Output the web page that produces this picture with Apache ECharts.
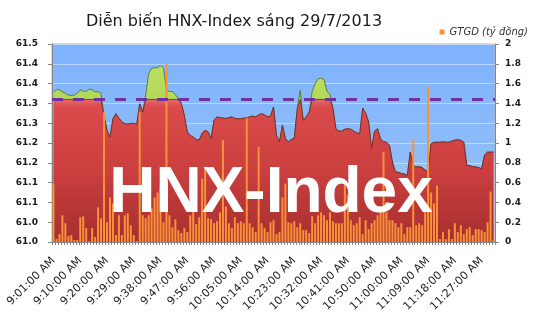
<!DOCTYPE html>
<html><head><meta charset="utf-8">
<script src="https://cdn.jsdelivr.net/npm/echarts@6/dist/echarts.min.js"></script>
<style>html,body{margin:0;padding:0;background:#fff}#c{width:535px;height:335px}</style>
</head><body><div id="c"></div>
<script>
const categories = [
'9:01:00 AM','9:02:00 AM','9:03:00 AM','9:04:00 AM','9:05:00 AM','9:06:00 AM','9:07:00 AM','9:08:00 AM','9:09:00 AM','9:10:00 AM',
'9:11:00 AM','9:12:00 AM','9:13:00 AM','9:14:00 AM','9:16:00 AM','9:17:00 AM','9:18:00 AM','9:19:00 AM','9:20:00 AM',
'9:21:00 AM','9:22:00 AM','9:23:00 AM','9:24:00 AM','9:25:00 AM','9:26:00 AM','9:27:00 AM','9:28:00 AM','9:29:00 AM','9:30:00 AM',
'9:31:00 AM','9:32:00 AM','9:33:00 AM','9:34:00 AM','9:35:00 AM','9:36:00 AM','9:37:00 AM','9:38:00 AM','9:39:00 AM','9:40:00 AM',
'9:41:00 AM','9:42:00 AM','9:43:00 AM','9:44:00 AM','9:45:00 AM','9:46:00 AM','9:47:00 AM','9:48:00 AM','9:49:00 AM','9:50:00 AM',
'9:51:00 AM','9:52:00 AM','9:53:00 AM','9:54:00 AM','9:55:00 AM','9:56:00 AM','9:57:00 AM','9:58:00 AM','9:59:00 AM',
'10:00:00 AM','10:01:00 AM','10:02:00 AM','10:03:00 AM','10:04:00 AM','10:05:00 AM','10:06:00 AM','10:07:00 AM','10:08:00 AM','10:09:00 AM',
'10:10:00 AM','10:11:00 AM','10:12:00 AM','10:13:00 AM','10:14:00 AM','10:15:00 AM','10:16:00 AM','10:17:00 AM','10:18:00 AM','10:19:00 AM',
'10:20:00 AM','10:21:00 AM','10:22:00 AM','10:23:00 AM','10:24:00 AM','10:25:00 AM','10:26:00 AM','10:27:00 AM','10:28:00 AM','10:29:00 AM',
'10:30:00 AM','10:31:00 AM','10:32:00 AM','10:33:00 AM','10:34:00 AM','10:35:00 AM','10:36:00 AM','10:37:00 AM','10:38:00 AM','10:39:00 AM',
'10:40:00 AM','10:41:00 AM','10:42:00 AM','10:43:00 AM','10:44:00 AM','10:45:00 AM','10:46:00 AM','10:47:00 AM','10:48:00 AM','10:49:00 AM',
'10:50:00 AM','10:51:00 AM','10:52:00 AM','10:53:00 AM','10:54:00 AM','10:56:00 AM','10:57:00 AM','10:58:00 AM','10:59:00 AM','11:00:00 AM',
'11:01:00 AM','11:02:00 AM','11:03:00 AM','11:04:00 AM','11:05:00 AM','11:06:00 AM','11:07:00 AM','11:08:00 AM','11:09:00 AM','11:10:00 AM',
'11:11:00 AM','11:12:00 AM','11:13:00 AM','11:14:00 AM','11:15:00 AM','11:16:00 AM','11:17:00 AM','11:18:00 AM','11:19:00 AM','11:20:00 AM',
'11:21:00 AM','11:22:00 AM','11:23:00 AM','11:24:00 AM','11:25:00 AM','11:26:00 AM','11:27:00 AM','11:28:00 AM','11:29:00 AM','11:30:00 AM',
'11:31:00 AM'
];

const indexValues = [
61.378,61.385,61.384,61.379,61.375,61.371,61.370,61.371,61.376,61.384,
61.381,61.380,61.386,61.384,61.379,61.380,61.375,61.318,61.282,61.265,
61.311,61.324,61.313,61.303,61.299,61.298,61.299,61.300,61.297,61.349,
61.328,61.370,61.425,61.438,61.440,61.440,61.446,61.438,61.383,61.380,
61.380,61.372,61.362,61.350,61.320,61.278,61.269,61.265,61.259,61.257,
61.275,61.282,61.278,61.261,61.307,61.316,61.314,61.313,61.312,61.314,
61.316,61.312,61.311,61.311,61.313,61.313,61.316,61.318,61.316,61.321,
61.324,61.321,61.316,61.318,61.341,61.269,61.253,61.295,61.262,61.253,
61.259,61.262,61.337,61.383,61.307,61.316,61.328,61.380,61.400,61.412,
61.414,61.410,61.380,61.373,61.337,61.285,61.280,61.280,61.285,61.286,
61.285,61.280,61.276,61.273,61.338,61.325,61.303,61.236,61.280,61.286,
61.260,61.253,61.252,61.244,61.202,61.177,61.176,61.173,61.172,61.168,
61.227,61.192,61.190,61.190,61.188,61.182,61.177,61.248,61.252,61.252,
61.252,61.253,61.252,61.252,61.255,61.257,61.258,61.257,61.252,61.194,
61.193,61.190,61.190,61.188,61.185,61.220,61.227,61.227,61.227
];

const volumes = [
0.59,0.03,0.08,0.27,0.19,0.06,0.07,0.02,0.02,0.25,
0.26,0.14,0.01,0.14,0.05,0.35,0.24,1.31,0.20,0.45,
0.39,0.07,0.27,0.07,0.27,0.29,0.17,0.07,0.01,1.31,
0.27,0.24,0.27,0.34,0.45,0.50,0.57,
0.20,1.80,0.27,0.15,0.23,0.12,0.09,0.14,0.10,0.27,
0.64,0.18,0.25,0.64,0.75,0.24,0.23,0.19,0.21,0.30,
1.03,0.36,0.19,0.14,0.25,0.19,0.21,0.19,1.25,0.19,
0.15,0.10,0.96,0.19,0.14,0.10,0.20,0.22,0.08,0.10,
0.45,0.59,0.20,0.19,0.21,0.15,0.19,0.12,0.12,0.09,
0.26,0.19,0.27,0.30,0.27,0.22,0.30,0.21,0.19,0.19,
0.19,0.60,0.48,0.22,0.17,0.19,0.25,0.08,0.22,0.13,
0.19,0.22,0.27,0.34,0.91,0.30,0.22,0.22,0.19,0.15,
0.19,0.08,0.15,0.15,1.03,0.17,0.19,0.17,0.40,1.57,
0.50,0.39,0.57,0.03,0.10,0.03,0.13,0.03,0.19,0.10,
0.17,0.08,0.13,0.15,0.07,0.13,0.13,0.12,0.10,0.20,
0.51,0.02
];

const referenceLevel = 61.36;
const leftTickLabels = ['61.0','61.0','61.1','61.1','61.2','61.2','61.3','61.3','61.4','61.4','61.5'];
const titleText = 'Diễn biến HNX-Index sáng 29/7/2013';
const legendLabel = 'GTGD (tỷ đồng)';
const watermarkText = 'HNX-Index';

const cappedValues = indexValues.map(v => Math.min(v, referenceLevel));
const G = echarts.graphic.LinearGradient;
const axisGray = '#868686';

const chart = echarts.init(document.getElementById('c'), null, {renderer: 'canvas'});
chart.setOption({
  animation: false,
  backgroundColor: '#ffffff',
  legend: {
    data: [legendLabel], right: 2, top: 22, icon: 'rect', itemWidth: 5, itemHeight: 5, itemGap: 4,
    textStyle: {fontFamily: 'DejaVu Sans', fontStyle: 'italic', fontSize: 10, color: '#333'}
  },
  grid: {
    left: 52, right: 40, top: 44, bottom: 93, show: true, borderColor: '#b4b4b4', borderWidth: 1,
    backgroundColor: new G(0, 0, 0, 1, [
      {offset: 0, color: '#7db2ff'}, {offset: 0.55, color: '#8ebcf8'}, {offset: 1, color: '#c6d9f0'}
    ])
  },
  xAxis: {
    type: 'category', data: categories, boundaryGap: true,
    axisLine: {lineStyle: {color: axisGray}},
    axisTick: {show: true, interval: 0, length: 3, lineStyle: {color: axisGray}},
    axisLabel: {interval: 8, rotate: 45, margin: 17, fontFamily: 'DejaVu Sans', fontSize: 11, color: '#222'},
    splitLine: {show: false}
  },
  yAxis: [{
    type: 'value', min: 61, max: 61.5, interval: 0.05, position: 'left',
    axisLine: {show: true, lineStyle: {color: axisGray}},
    axisTick: {show: true, length: 4, lineStyle: {color: axisGray}},
    axisLabel: {
      formatter: v => leftTickLabels[Math.round((v - 61) / 0.05)],
      fontFamily: 'DejaVu Sans', fontWeight: 'bold', fontSize: 9, color: '#1a1a1a', margin: 14
    },
    splitLine: {show: true, lineStyle: {color: 'rgba(255,255,255,0.45)', width: 1}}
  }, {
    type: 'value', min: 0, max: 2, interval: 0.2, position: 'right',
    axisLine: {show: true, lineStyle: {color: axisGray}},
    axisTick: {show: true, length: 4, lineStyle: {color: axisGray}},
    axisLabel: {fontFamily: 'DejaVu Sans', fontWeight: 'bold', fontSize: 9, color: '#1a1a1a', margin: 10},
    splitLine: {show: false}
  }],
  series: [{
    type: 'line', name: 'HNX-Index', data: indexValues, yAxisIndex: 0, symbol: 'none', z: 1,
    lineStyle: {color: '#4f6b1a', width: 0.8},
    areaStyle: {opacity: 1, color: new G(0, 0, 0, 1, [{offset: 0, color: '#bde064'}, {offset: 1, color: '#84b632'}])}
  }, {
    type: 'line', name: 'capped', data: cappedValues, yAxisIndex: 0, symbol: 'none', z: 2,
    lineStyle: {color: '#6e2222', width: 0.8},
    areaStyle: {opacity: 1, color: new G(0, 0, 0, 1, [
      {offset: 0, color: '#ea6a6a'}, {offset: 0.05, color: '#db4b4b'}, {offset: 0.5, color: '#cb3f3f'}, {offset: 1, color: '#a62e2e'}
    ])},
    markLine: {
      silent: true, symbol: 'none', label: {show: false},
      lineStyle: {color: '#7030a0', width: 3, type: [11, 10]},
      data: [{yAxis: referenceLevel}]
    }
  }, {
    type: 'bar', name: legendLabel, data: volumes, yAxisIndex: 1, barWidth: 2, z: 4,
    itemStyle: {color: '#f7923a'}
  }],
  graphic: [{
    type: 'text', z: 100,
    style: {text: titleText, x: 234, y: 22, align: 'center', verticalAlign: 'middle', textAlign: 'center', textVerticalAlign: 'middle',
      font: '16px "DejaVu Sans"', fill: '#1a1a1a'}
  }, {
    type: 'text', z: 100,
    style: {text: watermarkText, x: 271, y: 194, align: 'center', verticalAlign: 'middle', textAlign: 'center', textVerticalAlign: 'middle',
      font: 'bold 64px "Liberation Sans"', fill: '#ffffff', shadowColor: 'rgba(0,0,0,0.35)', shadowBlur: 3, shadowOffsetX: 1, shadowOffsetY: 1}
  }]
});
</script>
</body></html>
